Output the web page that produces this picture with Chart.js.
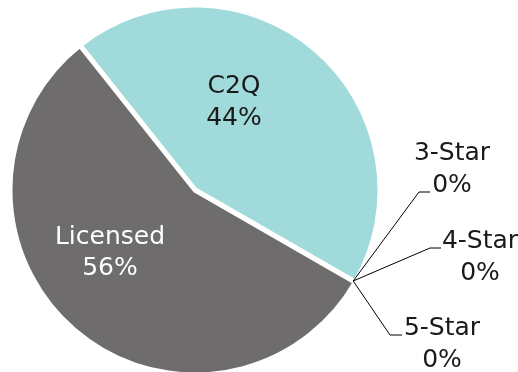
<!DOCTYPE html>
<html>
<head>
<meta charset="utf-8">
<script src="https://cdn.jsdelivr.net/npm/chart.js@4/dist/chart.umd.min.js"></script>
<style>
  html, body { margin: 0; padding: 0; background: #ffffff; }
  #wrap { width: 518px; height: 372px; position: relative; }
</style>
</head>
<body>
<div id="wrap"><canvas id="c" width="518" height="372"></canvas></div>
<script>
// ---- data ----
const categories = ['C2Q', '3-Star', '4-Star', '5-Star', 'Licensed'];
const values = [44, 0, 0, 0, 56];

// ---- styles ----
const sliceColors = ['#A1DADB', '#4F81BD', '#9BBB59', '#8064A2', '#6E6C6D'];
const FONT = '25px "DejaVu Sans", sans-serif';
// label placement (pixel offsets from pie centre); leader = elbow/end for callouts
const labelStyle = [
  { dx: 39,  y1: -97, y2: -65, color: '#1a1a1a' },
  { dx: 257, y1: -30, y2: 2,   color: '#1a1a1a', elbow: [224, 2],   end: [235, 2] },
  { dx: 285, y1: 58,  y2: 90,  color: '#1a1a1a', elbow: [235, 58],  end: [246, 58] },
  { dx: 247, y1: 145, y2: 177, color: '#1a1a1a', elbow: [195, 145], end: [207, 145] },
  { dx: -85, y1: 54,  y2: 85,  color: '#ffffff' }
];

const total = values.reduce((a, b) => a + b, 0);

const labelPlugin = {
  id: 'pieLabels',
  afterDatasetsDraw(chart) {
    const ctx = chart.ctx;
    const meta = chart.getDatasetMeta(0);
    ctx.save();
    ctx.font = FONT;
    ctx.textAlign = 'center';
    ctx.textBaseline = 'alphabetic';
    meta.data.forEach((arc, i) => {
      const st = labelStyle[i];
      const cx = arc.x, cy = arc.y;
      const pct = Math.round(values[i] / total * 100) + '%';
      if (st.elbow) {
        const r = arc.outerRadius - 2.5;
        const a = arc.startAngle;
        ctx.beginPath();
        ctx.strokeStyle = '#000000';
        ctx.lineWidth = 1;
        ctx.moveTo(cx + r * Math.cos(a), cy + r * Math.sin(a));
        ctx.lineTo(cx + st.elbow[0], cy + st.elbow[1]);
        ctx.lineTo(cx + st.end[0], cy + st.end[1]);
        ctx.stroke();
      }
      ctx.fillStyle = st.color;
      ctx.fillText(categories[i], cx + st.dx, cy + st.y1);
      ctx.fillText(pct, cx + st.dx, cy + st.y2);
    });
    ctx.restore();
  }
};

new Chart(document.getElementById('c'), {
  type: 'pie',
  data: {
    labels: categories,
    datasets: [{
      data: values,
      backgroundColor: sliceColors,
      borderColor: '#ffffff',
      borderWidth: 5
    }]
  },
  options: {
    responsive: false,
    animation: false,
    rotation: -38.5,
    radius: 185,
    layout: { padding: { left: 0, right: 128, top: 8, bottom: 0 } },
    plugins: {
      legend: { display: false },
      tooltip: { enabled: false }
    }
  },
  plugins: [labelPlugin]
});
</script>
</body>
</html>
